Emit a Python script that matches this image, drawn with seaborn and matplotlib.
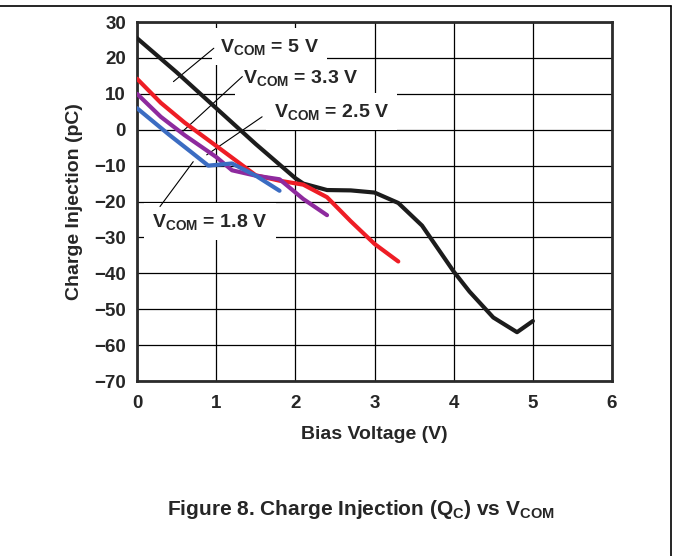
import pandas as pd
import matplotlib
matplotlib.use("Agg")
import matplotlib.pyplot as plt
from matplotlib.lines import Line2D
import seaborn as sns

# curves, one per V_COM
bias_5v = [0, 0.5, 1.0, 1.5, 2.0, 2.1, 2.4, 2.7, 3.0, 3.3, 3.6, 4.0, 4.2, 4.5, 4.8, 5.0]
qc_5v = [25.5, 16, 6, -4, -13.5, -15, -16.8, -16.9, -17.5, -20.4, -26.7, -39.5, -45.1, -52.3, -56.4, -53.3]

bias_33v = [0, 0.3, 0.6, 1.0, 1.5, 1.8, 2.1, 2.4, 2.7, 3.0, 3.3]
qc_33v = [14.2, 7.5, 2.0, -4.5, -12.7, -14.2, -15.3, -18.8, -25.5, -31.8, -36.7]

bias_25v = [0, 0.3, 0.6, 1.0, 1.2, 1.5, 1.8, 2.1, 2.4]
qc_25v = [10, 3.6, -1.5, -7.6, -11.3, -12.8, -13.8, -19.3, -23.8]

bias_18v = [0, 0.4, 0.7, 0.9, 1.2, 1.5, 1.8]
qc_18v = [6, -1.3, -6.5, -10, -9.4, -12.8, -17]

series = ["5 V", "3.3 V", "2.5 V", "1.8 V"]
colors = ["#1c1c1c", "#ee1d25", "#8e2a9e", "#3b6cc2"]

y_ticks = [30, 20, 10, 0, -10, -20, -30, -40, -50, -60, -70]
x_ticks = [0, 1, 2, 3, 4, 5, 6]

frames = []
for name, xs, ys in zip(series, [bias_5v, bias_33v, bias_25v, bias_18v],
                        [qc_5v, qc_33v, qc_25v, qc_18v]):
    frames.append(pd.DataFrame({"bias": xs, "qc": ys, "vcom": name}))
df = pd.concat(frames, ignore_index=True)

sns.set_theme(style="white")
plt.rcParams['font.family'] = ['Liberation Sans', 'DejaVu Sans']
plt.rcParams['font.weight'] = 'bold'
plt.rcParams['mathtext.fontset'] = 'custom'
plt.rcParams['mathtext.rm'] = 'Liberation Sans:bold'
plt.rcParams['mathtext.it'] = 'Liberation Sans:bold'
plt.rcParams['mathtext.bf'] = 'Liberation Sans:bold'

fig = plt.figure(figsize=(6.73, 5.56), dpi=100)
ax = fig.add_axes([0.2036, 0.3147, 0.7058, 0.6457])

sns.lineplot(data=df, x="bias", y="qc", hue="vcom", palette=dict(zip(series, colors)),
             estimator=None, sort=False, linewidth=3, legend=False, ax=ax, zorder=3)

ax.set_xlim(0, 6)
ax.set_ylim(-70, 30)
ax.set_xticks(x_ticks)
ax.set_yticks(y_ticks)
ax.set_yticklabels([str(t).replace("-", "\u2212") for t in y_ticks])
ax.grid(True, color="black", linewidth=0.9, zorder=0)
ax.set_axisbelow(True)
ax.tick_params(length=0, labelsize=13.5, pad=8)
ax.tick_params(axis="x", pad=10)
for s in ax.spines.values():
    s.set_linewidth(2)
    s.set_color("#2b2b2b")

ax.set_xlabel("Bias Voltage (V)", fontsize=14, fontweight="bold", labelpad=10)
ax.set_ylabel("Charge Injection (pC)", fontsize=14, fontweight="bold", labelpad=8)

# labels with leader lines
labels = [
    (r"V$_{\mathrm{COM}}$ = 5 V", (0.46, 13.4), (0.97, 22.7), (1.05, 23.1)),
    (r"V$_{\mathrm{COM}}$ = 3.3 V", (0.57, -0.6), (1.33, 14.8), (1.34, 14.4)),
    (r"V$_{\mathrm{COM}}$ = 2.5 V", (0.88, -7.0), (1.58, 3.6), (1.73, 5.0)),
    (r"V$_{\mathrm{COM}}$ = 1.8 V", (0.29, -21.4), (0.71, -8.9), (0.19, -25.6)),
]
for txt, start, end, pos in labels:
    ax.text(pos[0], pos[1], txt, fontsize=14, fontweight="bold", ha="left", va="center",
            zorder=2, bbox=dict(facecolor="white", edgecolor="none", pad=6))
    ax.annotate("", xy=start, xytext=end,
                arrowprops=dict(arrowstyle="-", lw=0.8, color="black", shrinkA=0, shrinkB=0),
                zorder=2.5)

fig.text(0.536, 0.084, r"Figure 8. Charge Injection (Q$_{\mathrm{C}}$) vs V$_{\mathrm{COM}}$",
         ha="center", va="center", fontsize=15, fontweight="bold")

# page frame: top and right rules
fig.add_artist(Line2D([0, 671 / 673], [1 - 6 / 556, 1 - 6 / 556], color="black", lw=1.2,
                      transform=fig.transFigure))
fig.add_artist(Line2D([671 / 673, 671 / 673], [1 - 6 / 556, 0], color="black", lw=1.2,
                      transform=fig.transFigure))

fig.savefig("out.png", dpi=100)
